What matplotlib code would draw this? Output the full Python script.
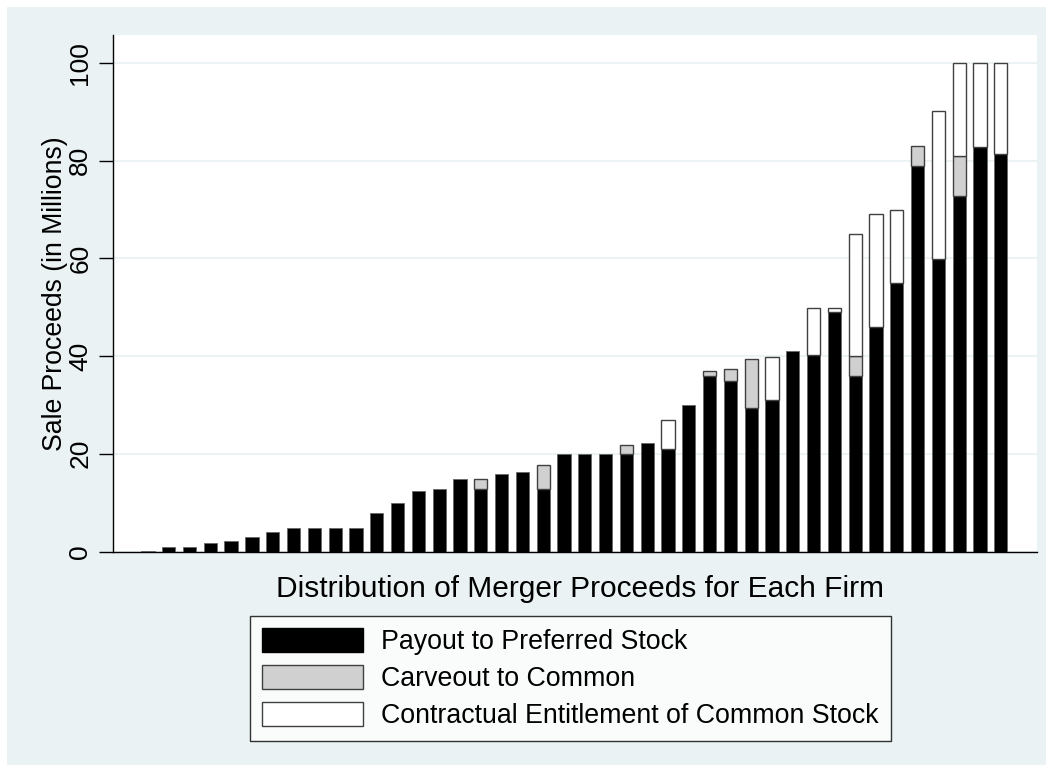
import numpy as np
import matplotlib
matplotlib.use("Agg")
import matplotlib.pyplot as plt
from matplotlib.patches import Patch, Rectangle

plt.rcParams['font.family'] = ['Liberation Sans', 'DejaVu Sans']

# values, one entry per firm (millions)
payout_pref = [0.2, 0.9, 0.9, 1.8, 2.1, 3.0, 3.9, 4.8, 4.8, 4.8, 4.8, 7.8, 9.9, 12.4,
               12.8, 14.8, 12.8, 15.8, 16.3, 12.8, 20.0, 20.0, 20.0, 20.0, 22.3, 21.0,
               29.9, 35.9, 34.8, 29.4, 31.0, 41.0, 40.3, 49.0, 35.9, 46.0, 55.0, 78.8,
               59.8, 72.7, 82.8, 81.4]
carveout = [0, 0, 0, 0, 0, 0, 0, 0, 0, 0, 0, 0, 0, 0,
            0, 0, 2.0, 0, 0, 5.0, 0, 0, 0, 1.8, 0, 0,
            0, 1.0, 2.6, 9.9, 0, 0, 0, 0, 4.2, 0, 0, 4.1,
            0, 8.2, 0, 0]
entitlement = [0, 0, 0, 0, 0, 0, 0, 0, 0, 0, 0, 0, 0, 0,
               0, 0, 0, 0, 0, 0, 0, 0, 0, 0, 0, 5.9,
               0, 0, 0, 0, 8.9, 0, 9.6, 0.9, 24.9, 23.0, 14.9, 0,
               30.3, 19.1, 17.2, 18.6]
labels = ["Payout to Preferred Stock", "Carveout to Common",
          "Contractual Entitlement of Common Stock"]

W, H = 1053, 772
fig = plt.figure(figsize=(W / 100, H / 100), dpi=100)
fig.patch.set_facecolor("white")
bg = "#eaf2f3"
fig.patches.append(Rectangle((7 / W, 7 / H), 1 - 14 / W, 1 - 14 / H,
                             transform=fig.transFigure, facecolor=bg,
                             edgecolor="none", zorder=-10))

ax = fig.add_axes([113 / W, 1 - 551.5 / H, (1037 - 113) / W, (551.5 - 35) / H])
ax.set_facecolor("white")

x = np.arange(len(payout_pref))
pref = np.array(payout_pref)
carve = np.array(carveout)
ent = np.array(entitlement)
bw = 0.64
ax.bar(x, pref, bw, color="black", edgecolor="#666666", linewidth=0.6, zorder=3)
m = carve > 0
ax.bar(x[m], carve[m], bw, bottom=pref[m], color="#d0d0d0",
       edgecolor="#404040", linewidth=1.0, zorder=3)
m = ent > 0
ax.bar(x[m], ent[m], bw, bottom=(pref + carve)[m], color="white",
       edgecolor="#404040", linewidth=1.0, zorder=3)

ax.set_xlim(-1.68, 42.74)
ax.set_ylim(0, 105.7)
ax.set_yticks([0, 20, 40, 60, 80, 100])
ax.set_xticks([])
ax.yaxis.grid(True, color=bg, linewidth=1.3, zorder=0)
ax.set_axisbelow(True)
for s in ["top", "right"]:
    ax.spines[s].set_visible(False)
for s in ["left", "bottom"]:
    ax.spines[s].set_color("black")
    ax.spines[s].set_linewidth(1.0)
ax.tick_params(axis="y", length=10, width=1.0, labelsize=19, pad=5)
for t in ax.get_yticklabels():
    t.set_rotation(90)
    t.set_va("center")
ax.set_ylabel("Sale Proceeds (in Millions)", fontsize=19.2, labelpad=0)
ax.set_xlabel("Distribution of Merger Proceeds for Each Firm", fontsize=21.5, labelpad=16)
ax.xaxis.set_label_coords(0.505, -0.045, transform=ax.transAxes)
ax.xaxis.label.set_va("top")

handles = [Patch(facecolor="black", edgecolor="black"),
           Patch(facecolor="#d0d0d0", edgecolor="#404040"),
           Patch(facecolor="white", edgecolor="#404040")]
leg = fig.legend(handles, labels, loc="upper left",
                 bbox_to_anchor=(250 / W, 1 - 616 / H), fontsize=19.3,
                 frameon=True, fancybox=False, edgecolor="black",
                 handlelength=3.77, handleheight=1.0, labelspacing=0.36,
                 handletextpad=0.68, borderpad=0.45, borderaxespad=0)
leg.get_frame().set_linewidth(1.0)
leg.get_frame().set_facecolor("white")

fig.savefig("out.png", dpi=100, facecolor=fig.get_facecolor())
